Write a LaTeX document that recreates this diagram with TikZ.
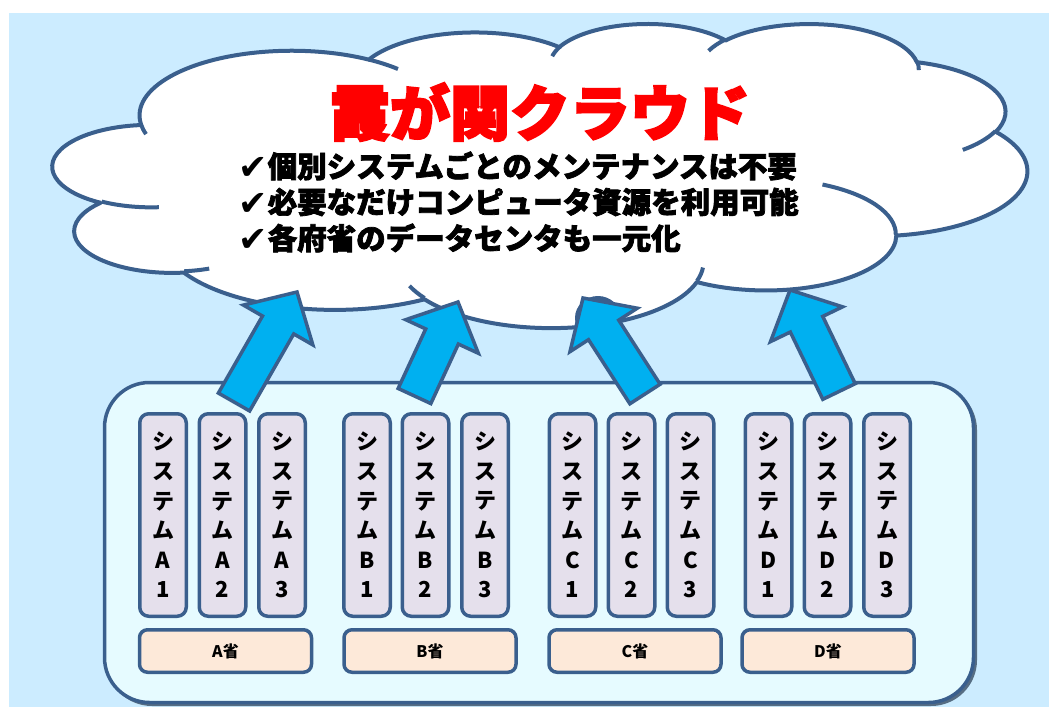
\documentclass[tikz,border=0pt]{standalone}
\usepackage{fontspec}
\usetikzlibrary{calc}
\newfontfamily\jp{Noto Sans CJK JP}
\newfontfamily\jpx[FakeBold=2.5]{Noto Sans CJK JP}
\newfontfamily\jpt[FakeBold=3.5]{Noto Sans CJK JP}
\newfontfamily\dvs{DejaVu Sans}
\definecolor{bgblue}{HTML}{CCECFF}
\definecolor{bordc}{HTML}{3A5F8D}
\definecolor{contfill}{HTML}{E6FBFF}
\definecolor{sysfill}{HTML}{E5E0EC}
\definecolor{minfill}{HTML}{FDE9D9}
\definecolor{arrfill}{HTML}{00B0F0}
\definecolor{shadc}{HTML}{24384F}
\newcommand\cldang[5]{%
  \pgfmathsetmacro\cldA{atan2((#2)*sin(#4),(#3)*cos(#4))}%
  \pgfmathsetmacro\cldB{atan2((#2)*sin((#4)+(#5)),(#3)*cos((#4)+(#5)))}%
  \pgfmathsetmacro\cldS{-(\cldA)}%
  \pgfmathsetmacro\cldD{-mod(\cldB-(\cldA)+720,360)}%
  \expandafter\xdef\csname cld#1s\endcsname{\cldS}%
  \expandafter\xdef\csname cld#1d\endcsname{\cldD}%
}
\newcommand\carc[3]{arc[start angle=\csname cld#1s\endcsname, delta angle=\csname cld#1d\endcsname, x radius=#2/432, y radius=#3/432]}
\newcommand\sysstack[2]{シ\\ス\\テ\\ム\\#1\\#2}
\newcommand\chk{\makebox[29.5pt][l]{\raisebox{-2pt}{\dvs\bfseries\fontsize{35}{35}\selectfont ✔}}}
\begin{document}
\begin{tikzpicture}[x=1pt, y=-1pt,
  cloudst/.style={draw=bordc, fill=white, line width=4pt, line join=round},
  cloudln/.style={draw=bordc, line width=4pt},
  contbox/.style={draw=bordc, fill=contfill, line width=3.5pt, rounded corners=45pt, minimum width=869pt, minimum height=320pt, inner sep=0pt},
  sysbox/.style={draw=bordc, fill=sysfill, line width=3.5pt, rounded corners=9pt, minimum width=46.5pt, minimum height=202.5pt, inner sep=0pt, align=center, font=\jp\bfseries\fontsize{22}{29.6}\selectfont},
  minbox/.style={draw=bordc, fill=minfill, line width=3.5pt, rounded corners=8pt, minimum width=172pt, minimum height=42.5pt, inner sep=0pt, font=\jp\bfseries\fontsize{16}{16}\selectfont},
  arrowst/.style={draw=bordc, fill=arrfill, line width=3.5pt, line join=miter},
  bullet/.style={anchor=west, inner sep=0pt, font=\jpx\bfseries\fontsize{29.5}{29.5}\selectfont}
]
\useasboundingbox (0,0) rectangle (1049,707);
\fill[bgblue] (9,13) rectangle (1049,707);

% cloud angles
\cldang{a}{6753}{9190}{-190.4875}{123.7805}
\cldang{b}{5333}{7267}{-144.1024}{89.9452}
\cldang{c}{4365}{5945}{-145.8079}{99.7230}
\cldang{d}{4857}{6595}{-130.9861}{117.2417}
\cldang{e}{5333}{7273}{-78.7089}{109.0269}
\cldang{f}{6775}{9220}{-46.2673}{130.2690}
\cldang{g}{5785}{7867}{0.6250}{114.0333}
\cldang{h}{6752}{9215}{22.4516}{115.1726}
\cldang{i}{7720}{10543}{66.2426}{75.7110}
\cldang{j}{4360}{5918}{-274.9421}{146.7356}
\cldang{k}{4345}{5945}{-246.8285}{152.5189}
\cldang{p}{4345}{5945}{86.7420}{26.4295}
\cldang{q}{4360}{5918}{73.6105}{11.4475}
\cldang{r}{6752}{9215}{137.6242}{14.0811}
\cldang{s}{6752}{9215}{6.4533}{15.9984}
\cldang{t}{5785}{7867}{-70.2924}{70.9174}
\cldang{u}{5333}{7273}{30.3180}{27.7515}
\cldang{v}{4857}{6595}{-13.7443}{14.8589}
\cldang{w}{4857}{6595}{-149.1815}{18.1954}
\cldang{x}{4365}{5945}{-163.4943}{17.6864}
\cldang{y}{6753}{9190}{-66.7070}{12.3194}
\cldang{z}{6753}{9190}{157.6544}{11.8582}

\begin{scope}[shift={(53,23)}, x=1pt, y=1pt, xscale=9.74, yscale=3.04]
\draw[cloudst] ({3.9/0.432},{-14.37/0.432})
  \carc{a}{6753}{9190} \carc{b}{5333}{7267} \carc{c}{4365}{5945}
  \carc{d}{4857}{6595} \carc{e}{5333}{7273} \carc{f}{6775}{9220}
  \carc{g}{5785}{7867} \carc{h}{6752}{9215} \carc{i}{7720}{10543}
  \carc{j}{4360}{5918} \carc{k}{4345}{5945} -- cycle;
\draw[cloudln]
  ({4.693/0.432},{-26.177/0.432}) \carc{p}{4345}{5945}
  ({6.928/0.432},{-34.899/0.432}) \carc{q}{4360}{5918}
  ({16.478/0.432},{-39.090/0.432}) \carc{r}{6752}{9215}
  ({28.827/0.432},{-34.751/0.432}) \carc{s}{6752}{9215}
  ({34.129/0.432},{-22.954/0.432}) \carc{t}{5785}{7867}
  ({41.798/0.432},{-15.354/0.432}) \carc{u}{5333}{7273}
  ({38.324/0.432},{-5.426/0.432}) \carc{v}{4857}{6595}
  ({29.078/0.432},{-3.952/0.432}) \carc{w}{4857}{6595}
  ({22.141/0.432},{-4.720/0.432}) \carc{x}{4365}{5945}
  ({14.000/0.432},{-5.192/0.432}) \carc{y}{6753}{9190}
  ({4.127/0.432},{-15.789/0.432}) \carc{z}{6753}{9190};
\end{scope}

% blob behind third arrow head
\fill[bordc] (598,318) ellipse [x radius=23, y radius=22];

% container
\fill[shadc, opacity=0.7, rounded corners=46pt] (106,384) rectangle (977,706);
\node[contbox] (cont) at (539,542.5) {};

% system boxes
\foreach \nm/\xx/\lab in {a1/163/A1, a2/222.5/A2, a3/282/A3,
                          b1/367/B1, b2/425.5/B2, b3/485/B3,
                          c1/572.5/C1, c2/631.5/C2, c3/690.5/C3,
                          d1/768.5/D1, d2/827.5/D2, d3/887/D3}{
  \node[sysbox] (\nm) at (\xx,515) {\expandafter\sysstack\lab};
}
% ministry boxes
\node[minbox] (ma) at (225.5,651) {A省};
\node[minbox] (mb) at (430,651) {B省};
\node[minbox] (mc) at (635,651) {C省};
\node[minbox] (md) at (828,651) {D省};

% arrows
\newcommand\blockarrow[2]{%
  \coordinate (#1n) at ($(#2)!38pt!(#1)$);
  \draw[arrowst] ($(#1)!18pt!90:(#2)$) -- ($(#1n)!18pt!-90:(#1)$) -- ($(#1n)!40pt!-90:(#1)$)
    -- (#2) -- ($(#1n)!40pt!90:(#1)$) -- ($(#1n)!18pt!90:(#1)$) -- ($(#1)!18pt!-90:(#2)$) -- cycle;}
\coordinate (t1) at (234,402); \coordinate (h1) at (297,292);
\coordinate (t2) at (414.5,396); \coordinate (h2) at (458,302);
\coordinate (t3) at (645,394); \coordinate (h3) at (583,298);
\coordinate (t4) at (839,391.5); \coordinate (h4) at (790,290);
\blockarrow{t1}{h1}
\blockarrow{t2}{h2}
\blockarrow{t3}{h3}
\blockarrow{t4}{h4}

% texts
\node[text=red, inner sep=0pt, font=\jpt\bfseries\fontsize{60}{60}\selectfont] (title) at (540,112) {霞が関クラウド};
\node[bullet] (l1) at (238,166) {\chk 個別システムごとのメンテナンスは不要};
\node[bullet] (l2) at (238,202) {\chk 必要なだけコンピュータ資源を利用可能};
\node[bullet] (l3) at (238,238) {\chk 各府省のデータセンタも一元化};
\end{tikzpicture}
\end{document}
